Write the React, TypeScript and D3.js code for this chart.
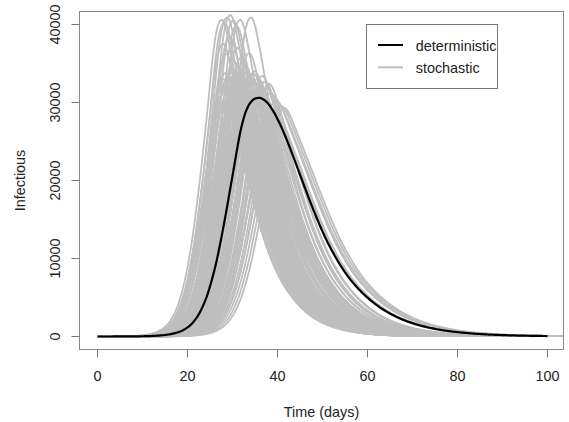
import React from "react";
import * as d3 from "d3";

// Deterministic model (days, infectious)
const detDays = [0, 2, 4, 6, 8, 10, 12, 14, 16, 18, 20, 22, 24, 26, 28, 30, 32, 33, 34, 35, 36, 37, 38, 39, 40, 42, 44, 46, 48, 50, 52, 54, 56, 58, 60, 62, 64, 66, 68, 70, 72, 74, 76, 78, 80, 84, 88, 92, 96, 100];
const detValues = [1, 2, 4, 8, 16, 32, 66, 135, 275, 565, 1160, 2380, 4700, 8560, 14100, 20600, 26900, 28900, 30000, 30500, 30600, 30350, 29800, 28950, 27900, 25300, 22300, 19200, 16200, 13450, 11100, 9100, 7450, 6100, 4980, 4050, 3280, 2650, 2130, 1710, 1370, 1095, 875, 700, 560, 355, 225, 143, 91, 58];

// Stochastic runs: peak day, peak value,
// and how much faster than the deterministic run each one rises / falls
const stochPeakDay = [
  27.7, 28.3, 28.9, 29.6, 30.3, 31.0, 31.8, 34.2,
  28.0, 28.7, 29.5, 30.4, 31.2, 32.1, 32.9, 33.8,
  28.0, 28.3, 28.6, 28.9, 29.2, 29.5, 29.8, 30.1, 30.4, 30.7, 31.0, 31.3, 31.6, 31.9, 32.2, 32.5, 32.8, 33.1, 33.4, 33.7, 34.0, 34.3, 34.6, 34.9, 35.2, 35.5, 35.8, 36.1, 36.4, 36.7, 37.0, 37.4, 37.8, 38.2, 38.6, 29.0, 30.0, 31.5, 32.0, 33.0, 34.5, 35.0, 36.0, 27.9, 30.9,
  30.0, 30.6, 31.2, 31.8, 32.4, 33.0, 33.6, 34.2, 34.8, 35.4, 36.0, 36.6, 37.2, 37.8, 38.4, 36.3, 35.1, 32.7, 29.4, 33.9, 37.5, 31.5,
  39.2, 39.8, 40.4, 41.0, 41.6, 39.5,
];
const stochPeakValue = [
  40600, 40200, 40900, 41200, 40500, 39800, 40600, 40900,
  37500, 36200, 38400, 35300, 37000, 35800, 34800, 36300,
  33000, 31500, 33800, 32200, 33400, 30800, 32800, 33900, 31600, 33100, 32300, 33700, 31000, 32900, 33500, 31800, 32600, 33900, 30900, 32400, 33300, 31500, 32800, 33600, 31200, 32500, 33100, 30800, 32200, 33400, 31400, 32700, 31900, 32400, 31200, 31200, 30500, 34000, 30400, 31300, 30600, 34000, 31700, 32000, 34000,
  28000, 26500, 29400, 25500, 27800, 29600, 26200, 28600, 24800, 27300, 29700, 25800, 28200, 26700, 29200, 23500, 30200, 24300, 29000, 23800, 24500, 27500,
  29800, 30300, 29600, 29500, 29300, 28600,
];
const stochRise = [
  1.15, 1.15, 1.15, 1.15, 1.14, 1.14, 1.13, 1.10,
  1.15, 1.14, 1.14, 1.13, 1.12, 1.12, 1.10, 1.10,
  1.15, 1.15, 1.15, 1.14, 1.14, 1.14, 1.14, 1.13, 1.13, 1.13, 1.12, 1.12, 1.12, 1.12, 1.11, 1.11, 1.11, 1.10, 1.10, 1.10, 1.10, 1.09, 1.09, 1.09, 1.08, 1.08, 1.08, 1.07, 1.07, 1.07, 1.06, 1.06, 1.05, 1.05, 1.05, 1.14, 1.13, 1.12, 1.11, 1.10, 1.09, 1.09, 1.07, 1.15, 1.13,
  1.14, 1.13, 1.12, 1.12, 1.11, 1.10, 1.10, 1.09, 1.09, 1.08, 1.07, 1.07, 1.06, 1.05, 1.04, 1.07, 1.08, 1.10, 1.14, 1.10, 1.05, 1.12,
  1.02, 1.01, 1.00, 1.00, 1.00, 1.02,
];
const stochFall = [
  1.50, 1.50, 1.52, 1.50, 1.48, 1.50, 1.48, 1.50,
  1.48, 1.46, 1.48, 1.45, 1.44, 1.42, 1.40, 1.40,
  1.45, 1.45, 1.44, 1.44, 1.43, 1.43, 1.42, 1.42, 1.41, 1.40, 1.40, 1.39, 1.38, 1.38, 1.37, 1.36, 1.35, 1.35, 1.34, 1.33, 1.32, 1.31, 1.30, 1.29, 1.28, 1.27, 1.26, 1.25, 1.24, 1.22, 1.21, 1.20, 1.18, 1.16, 1.15, 1.44, 1.42, 1.39, 1.38, 1.35, 1.31, 1.29, 1.25, 1.46, 1.40,
  1.45, 1.44, 1.42, 1.42, 1.40, 1.38, 1.38, 1.35, 1.36, 1.32, 1.28, 1.30, 1.25, 1.24, 1.20, 1.32, 1.30, 1.42, 1.46, 1.38, 1.28, 1.42,
  1.02, 1.00, 1.00, 1.00, 1.00, 1.04,
];

const xTicks = [0, 20, 40, 60, 80, 100];
const yTicks = [0, 10000, 20000, 30000, 40000];
const legendLabels = ["deterministic", "stochastic"];

const W = 569;
const H = 422;
const FONT = "'Liberation Sans', Arial, Helvetica, sans-serif";
const GRAY = "#BEBEBE";
const PEAK_SHARPEN = 2; // stochastic peaks are pointier than the deterministic one

// monotone cubic (Fritsch-Carlson) interpolation of the deterministic series
function makeInterp(xs: number[], ys: number[]) {
  const n = xs.length;
  const dx: number[] = [];
  const m: number[] = [];
  for (let i = 0; i < n - 1; i++) {
    dx.push(xs[i + 1] - xs[i]);
    m.push((ys[i + 1] - ys[i]) / (xs[i + 1] - xs[i]));
  }
  const t: number[] = new Array(n);
  t[0] = m[0];
  t[n - 1] = m[n - 2];
  for (let i = 1; i < n - 1; i++) {
    if (m[i - 1] * m[i] <= 0) t[i] = 0;
    else {
      const w1 = 2 * dx[i] + dx[i - 1];
      const w2 = dx[i] + 2 * dx[i - 1];
      t[i] = (w1 + w2) / (w1 / m[i - 1] + w2 / m[i]);
    }
  }
  return (x: number) => {
    if (x <= xs[0]) return ys[0];
    if (x >= xs[n - 1]) return ys[n - 1];
    let i = d3.bisectRight(xs, x) - 1;
    if (i >= n - 1) i = n - 2;
    const h = dx[i];
    const s = (x - xs[i]) / h;
    const s2 = s * s;
    const s3 = s2 * s;
    return (
      (2 * s3 - 3 * s2 + 1) * ys[i] +
      (s3 - 2 * s2 + s) * h * t[i] +
      (-2 * s3 + 3 * s2) * ys[i + 1] +
      (s3 - s2) * h * t[i + 1]
    );
  };
}

export default function App() {
  const x = d3.scaleLinear().domain([0, 100]).range([97.5, 547.5]);
  const y = d3.scaleLinear().domain([0, 40000]).range([336.5, 24.5]);
  const left = x(-4);
  const right = 563.5;
  const top = 11.5;
  const bottom = 349.5;

  const D = makeInterp(detDays, detValues);
  const peakIdx = d3.maxIndex(detValues);
  const T0 = detDays[peakIdx];
  const Dpeak = detValues[peakIdx];

  const grid = d3.range(0, 106.01, 0.2);
  const line = d3
    .line<[number, number]>()
    .x((d) => x(d[0]))
    .y((d) => y(d[1]));

  const stochPaths = stochPeakDay.map((p, k) => {
    const pts: [number, number][] = grid.map((t) => {
      const dt = t - p;
      const w = dt < 0 ? stochRise[k] : stochFall[k];
      const tau = dt * w + PEAK_SHARPEN * Math.tanh(dt / 2);
      const v = (stochPeakValue[k] / Dpeak) * D(T0 + tau);
      return [t, v];
    });
    return line(pts) || "";
  });

  const detGrid = d3.range(0, 100.001, 0.25);
  const detLine = d3
    .line<number>()
    .x((t) => x(t))
    .y((t) => y(D(t)));
  const detPath = detLine(detGrid) || "";

  const fmt = d3.format("d");

  return (
    <svg width={W} height={H} style={{ display: "block", position: "absolute", left: 0, top: 0 }}>
      <rect width={W} height={H} fill="#fff" />
      <defs>
        <clipPath id="plotClip">
          <rect x={left} y={top} width={right - left} height={bottom - top} />
        </clipPath>
      </defs>
      <g clipPath="url(#plotClip)">
        {stochPaths.map((d, i) => (
          <path key={i} d={d} fill="none" stroke={GRAY} strokeWidth={1.8} strokeLinejoin="round" />
        ))}
        <path d={detPath} fill="none" stroke="#000" strokeWidth={2.2} strokeLinejoin="round" />
      </g>
      <rect x={left} y={top} width={right - left} height={bottom - top} fill="none" stroke="#888" strokeWidth={1} />
      {/* x axis */}
      <line x1={x(xTicks[0])} x2={x(xTicks[xTicks.length - 1])} y1={bottom} y2={bottom} stroke="#888" />
      {xTicks.map((t) => (
        <g key={t}>
          <line x1={x(t)} x2={x(t)} y1={bottom} y2={bottom + 8} stroke="#777" />
          <text x={x(t)} y={381} textAnchor="middle" fontFamily={FONT} fontSize={14.4} fill="#222">
            {fmt(t)}
          </text>
        </g>
      ))}
      {/* y axis */}
      <line x1={left} x2={left} y1={y(yTicks[0])} y2={y(yTicks[yTicks.length - 1])} stroke="#888" />
      {yTicks.map((t) => (
        <g key={t}>
          <line x1={left - 8} x2={left} y1={y(t)} y2={y(t)} stroke="#777" />
          <text
            transform={`translate(60,${y(t)}) rotate(-90)`}
            textAnchor="middle"
            fontFamily={FONT}
            fontSize={14.4}
            fill="#222"
          >
            {fmt(t)}
          </text>
        </g>
      ))}
      <text x={(left + right) / 2} y={416.5} textAnchor="middle" fontFamily={FONT} fontSize={14.4} fill="#222">
        Time (days)
      </text>
      <text
        transform={`translate(24.5,${(top + bottom) / 2}) rotate(-90)`}
        textAnchor="middle"
        fontFamily={FONT}
        fontSize={14.4}
        fill="#222"
      >
        Infectious
      </text>
      {/* legend */}
      <rect x={366.5} y={24.5} width={131} height={64} fill="none" stroke="#777" />
      {legendLabels.map((lab, i) => (
        <g key={lab}>
          <line
            x1={378}
            x2={403}
            y1={45 + i * 22.3}
            y2={45 + i * 22.3}
            stroke={i === 0 ? "#000" : GRAY}
            strokeWidth={2}
          />
          <text x={415.7} y={50.5 + i * 22.1} fontFamily={FONT} fontSize={14.4} fill="#222">
            {lab}
          </text>
        </g>
      ))}
    </svg>
  );
}
